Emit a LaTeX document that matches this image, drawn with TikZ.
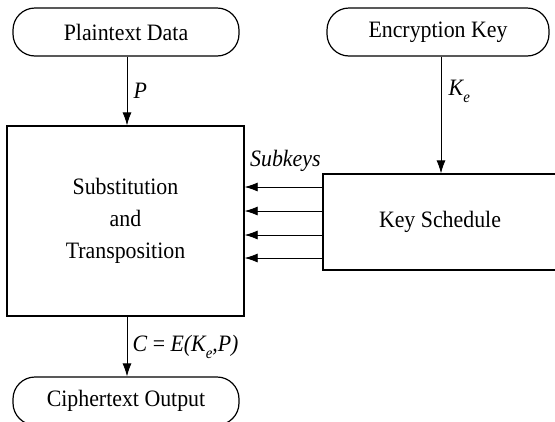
\documentclass[tikz,border=0pt]{standalone}
\usepackage{fontspec}
\setmainfont[FakeStretch=0.93]{Liberation Serif}
\usepackage{tikz}
\usetikzlibrary{arrows.meta,positioning,calc}
\newcommand{\lowsub}[1]{\raisebox{-7pt}{\fontsize{16}{16}\selectfont #1}}

\begin{document}
\begin{tikzpicture}[x=1pt,y=-1pt,
    term/.style={draw, line width=1.2pt, rounded corners=22pt, minimum width=226pt, minimum height=48pt, inner sep=0pt, font=\fontsize{23.5}{26}\selectfont},
    block/.style={draw, line width=1.3pt, inner sep=0pt, align=center, font=\fontsize{23.5}{32}\selectfont},
    arr/.style={-{Latex[length=13pt,width=9pt]}, line width=0.8pt},
    lbl/.style={font=\fontsize{23.5}{26}\selectfont\itshape}]
  \useasboundingbox (0,0) rectangle (555,421);

  \node[term] (plain) at (126,32) {Plaintext Data};
  \node[term, minimum width=222pt] (key) at (438,32) {Encryption Key};
  \node[block, minimum width=237pt, minimum height=190pt] (sub) at (125.5,221) {Substitution\\and\\Transposition};
  \node[block, minimum width=234pt, minimum height=96pt] (ks) at (440,222) {Key Schedule};
  \node[term] (cipher) at (126,401) {Ciphertext Output};

  \draw[arr] (plain.south -| 127,0) -- node[lbl, right=3pt] {P} (sub.north -| 127,0);
  \draw[arr] (key.south -| 441,0) -- node[lbl, right=4pt, pos=0.3] {K\lowsub{e}} (ks.north -| 441,0);
  \foreach \d in {35,11,-13,-36}
    \draw[arr] ([yshift=\d pt]ks.west) -- ([yshift=\d pt]ks.west -| sub.east);
  \node[lbl, anchor=south west] (subkeys) at ([xshift=2pt,yshift=47pt]sub.east |- ks.west) {Subkeys};
  \draw[arr] (sub.south -| 127,0) -- node[lbl, right=2pt] {C {\upshape=} E(K\lowsub{e},P)} (cipher.north -| 127,0);
\end{tikzpicture}
\end{document}
